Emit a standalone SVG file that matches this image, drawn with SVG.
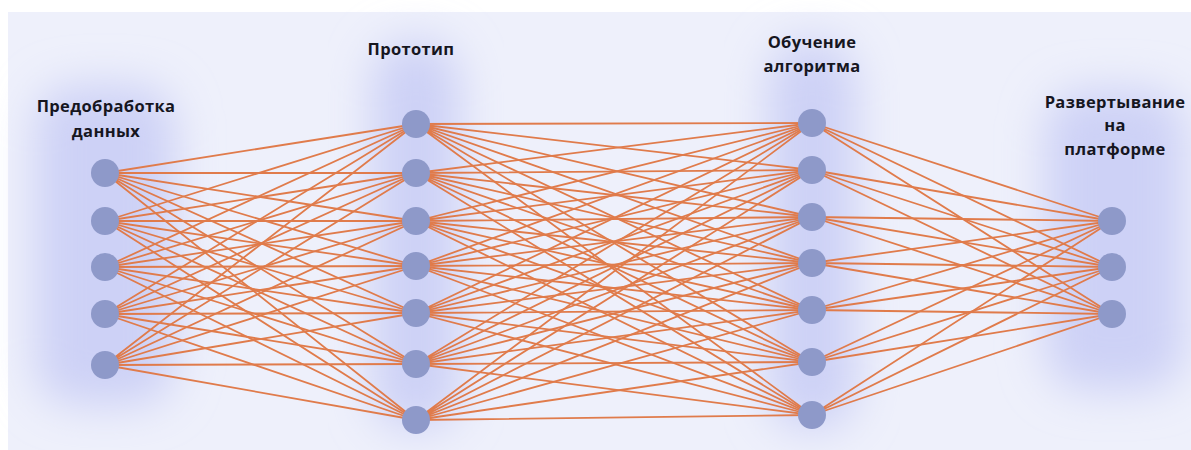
<svg xmlns="http://www.w3.org/2000/svg" width="1191" height="450" viewBox="0 0 1191 450">
  <defs>
    <filter id="haze" x="-50%" y="-50%" width="200%" height="200%">
      <feGaussianBlur stdDeviation="22"/>
    </filter>
    <style>
      .glow { fill: #cdd1f6; filter: url(#haze); }
      .edge { fill: none; stroke: #e07b4b; stroke-width: 1.8; }
      .node { fill: #8e99c9; }
      .label { font-family: "Open Sans", "Liberation Sans", sans-serif; font-weight: 700; font-size: 16.5px; letter-spacing: 0.35px; fill: #16161f; text-anchor: middle; }
    </style>
  </defs>

  <!-- panel -->
  <rect width="1191" height="450" fill="#ffffff"/>
  <rect x="8" y="12" width="1183" height="438" fill="#eef0fb"/>

  <!-- soft column halos -->
  <g id="halos">
    <rect class="glow" x="35" y="85" width="140" height="320" rx="40"/>
    <rect class="glow" x="372" y="40" width="88" height="390" rx="40"/>
    <rect class="glow" x="768" y="40" width="88" height="390" rx="40"/>
    <rect class="glow" x="1045" y="90" width="140" height="300" rx="40"/>
  </g>

  <!-- connectors: every node links to every node of the next layer -->
  <g id="connectors">
    <path class="edge" d="M105 173L416 124M105 173L416 173M105 173L416 221M105 173L416 266M105 173L416 313M105 173L416 364M105 173L416 420"/>
    <path class="edge" d="M105 221L416 124M105 221L416 173M105 221L416 221M105 221L416 266M105 221L416 313M105 221L416 364M105 221L416 420"/>
    <path class="edge" d="M105 267L416 124M105 267L416 173M105 267L416 221M105 267L416 266M105 267L416 313M105 267L416 364M105 267L416 420"/>
    <path class="edge" d="M105 314L416 124M105 314L416 173M105 314L416 221M105 314L416 266M105 314L416 313M105 314L416 364M105 314L416 420"/>
    <path class="edge" d="M105 365L416 124M105 365L416 173M105 365L416 221M105 365L416 266M105 365L416 313M105 365L416 364M105 365L416 420"/>

    <path class="edge" d="M416 124L812 123M416 124L812 170M416 124L812 217M416 124L812 263M416 124L812 310M416 124L812 362M416 124L812 415"/>
    <path class="edge" d="M416 173L812 123M416 173L812 170M416 173L812 217M416 173L812 263M416 173L812 310M416 173L812 362M416 173L812 415"/>
    <path class="edge" d="M416 221L812 123M416 221L812 170M416 221L812 217M416 221L812 263M416 221L812 310M416 221L812 362M416 221L812 415"/>
    <path class="edge" d="M416 266L812 123M416 266L812 170M416 266L812 217M416 266L812 263M416 266L812 310M416 266L812 362M416 266L812 415"/>
    <path class="edge" d="M416 313L812 123M416 313L812 170M416 313L812 217M416 313L812 263M416 313L812 310M416 313L812 362M416 313L812 415"/>
    <path class="edge" d="M416 364L812 123M416 364L812 170M416 364L812 217M416 364L812 263M416 364L812 310M416 364L812 362M416 364L812 415"/>
    <path class="edge" d="M416 420L812 123M416 420L812 170M416 420L812 217M416 420L812 263M416 420L812 310M416 420L812 362M416 420L812 415"/>

    <path class="edge" d="M812 123L1112 221M812 123L1112 267M812 123L1112 314"/>
    <path class="edge" d="M812 170L1112 221M812 170L1112 267M812 170L1112 314"/>
    <path class="edge" d="M812 217L1112 221M812 217L1112 267M812 217L1112 314"/>
    <path class="edge" d="M812 263L1112 221M812 263L1112 267M812 263L1112 314"/>
    <path class="edge" d="M812 310L1112 221M812 310L1112 267M812 310L1112 314"/>
    <path class="edge" d="M812 362L1112 221M812 362L1112 267M812 362L1112 314"/>
    <path class="edge" d="M812 415L1112 221M812 415L1112 267M812 415L1112 314"/>
  </g>

  <!-- layer 1: data preprocessing -->
  <g id="layer-preprocessing">
    <text class="label" x="106" y="112">Предобработка</text>
    <text class="label" x="106" y="137">данных</text>
    <circle class="node" cx="105" cy="173" r="14"/>
    <circle class="node" cx="105" cy="221" r="14"/>
    <circle class="node" cx="105" cy="267" r="14"/>
    <circle class="node" cx="105" cy="314" r="14"/>
    <circle class="node" cx="105" cy="365" r="14"/>
  </g>

  <!-- layer 2: prototype -->
  <g id="layer-prototype">
    <text class="label" x="411" y="55">Прототип</text>
    <circle class="node" cx="416" cy="124" r="14"/>
    <circle class="node" cx="416" cy="173" r="14"/>
    <circle class="node" cx="416" cy="221" r="14"/>
    <circle class="node" cx="416" cy="266" r="14"/>
    <circle class="node" cx="416" cy="313" r="14"/>
    <circle class="node" cx="416" cy="364" r="14"/>
    <circle class="node" cx="416" cy="420" r="14"/>
  </g>

  <!-- layer 3: training -->
  <g id="layer-training">
    <text class="label" x="812" y="48">Обучение</text>
    <text class="label" x="812" y="72">алгоритма</text>
    <circle class="node" cx="812" cy="123" r="14"/>
    <circle class="node" cx="812" cy="170" r="14"/>
    <circle class="node" cx="812" cy="217" r="14"/>
    <circle class="node" cx="812" cy="263" r="14"/>
    <circle class="node" cx="812" cy="310" r="14"/>
    <circle class="node" cx="812" cy="362" r="14"/>
    <circle class="node" cx="812" cy="415" r="14"/>
  </g>

  <!-- layer 4: deployment -->
  <g id="layer-deployment">
    <text class="label" x="1115" y="108">Развертывание</text>
    <text class="label" x="1115" y="131">на</text>
    <text class="label" x="1115" y="155">платформе</text>
    <circle class="node" cx="1112" cy="221" r="14"/>
    <circle class="node" cx="1112" cy="267" r="14"/>
    <circle class="node" cx="1112" cy="314" r="14"/>
  </g>
</svg>
